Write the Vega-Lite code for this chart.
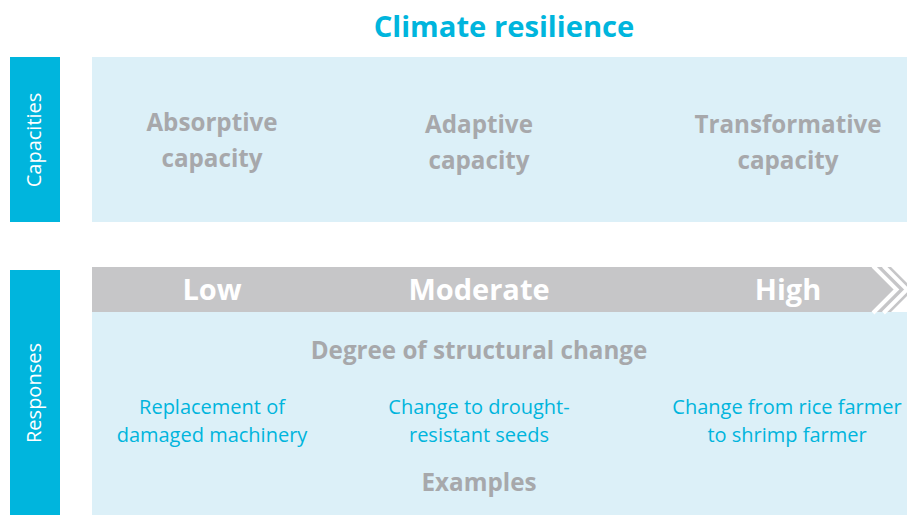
{
  "$schema": "https://vega.github.io/schema/vega-lite/v6.json",
  "width": 907,
  "height": 515,
  "autosize": {"type": "fit", "contains": "padding"},
  "padding": 0,
  "background": "white",
  "config": {"view": {"stroke": null}},
  "datasets": {
    "boxes": [
      {"id": "capBar", "kind": "side", "x0": 10, "x1": 60, "y0": 57, "y1": 222},
      {"id": "capPanel", "kind": "panel", "x0": 92, "x1": 907, "y0": 57, "y1": 222},
      {"id": "respBar", "kind": "side", "x0": 10, "x1": 60, "y0": 270, "y1": 515},
      {"id": "respPanel", "kind": "panel", "x0": 92, "x1": 907, "y0": 312, "y1": 515}
    ],
    "arrow": [
      {"x": 92, "top": 267, "bottom": 312},
      {"x": 891, "top": 267, "bottom": 312},
      {"x": 913.5, "top": 289.5, "bottom": 289.5}
    ],
    "chevrons": [
      {"c": "a", "o": 1, "x": 873, "y": 266},
      {"c": "a", "o": 2, "x": 896.5, "y": 289.5},
      {"c": "a", "o": 3, "x": 873, "y": 313},
      {"c": "b", "o": 1, "x": 883.5, "y": 266},
      {"c": "b", "o": 2, "x": 907, "y": 289.5},
      {"c": "b", "o": 3, "x": 883.5, "y": 313}
    ],
    "texts": [
      {"kind": "title", "label": "Climate resilience", "x": 504, "y": 28},
      {"kind": "side", "label": "Capacities", "x": 35, "y": 140},
      {"kind": "side", "label": "Responses", "x": 35, "y": 393},
      {"kind": "capacity", "label": "Absorptive\ncapacity", "x": 212, "y": 124},
      {"kind": "capacity", "label": "Adaptive\ncapacity", "x": 479, "y": 126},
      {"kind": "capacity", "label": "Transformative\ncapacity", "x": 788, "y": 126},
      {"kind": "level", "label": "Low", "x": 212, "y": 291},
      {"kind": "level", "label": "Moderate", "x": 479, "y": 291},
      {"kind": "level", "label": "High", "x": 788, "y": 291},
      {"kind": "heading", "label": "Degree of structural change", "x": 479, "y": 352},
      {"kind": "heading", "label": "Examples", "x": 479, "y": 484},
      {"kind": "example", "label": "Replacement of\ndamaged machinery", "x": 212, "y": 408},
      {"kind": "example", "label": "Change to drought-\nresistant seeds", "x": 479, "y": 408},
      {"kind": "example", "label": "Change from rice farmer\nto shrimp farmer", "x": 787, "y": 408}
    ]
  },
  "layer": [
    {
      "data": {"name": "boxes"},
      "mark": {"type": "rect", "clip": true},
      "encoding": {
        "x": {"field": "x0", "type": "quantitative", "scale": {"domain": [0, 907], "nice": false, "zero": false}, "axis": null},
        "x2": {"field": "x1"},
        "y": {"field": "y0", "type": "quantitative", "scale": {"domain": [0, 515], "nice": false, "zero": false, "reverse": true}, "axis": null},
        "y2": {"field": "y1"},
        "color": {"field": "kind", "type": "nominal", "scale": {"domain": ["side", "panel"], "range": ["#00b5dd", "#dcf0f8"]}, "legend": null}
      }
    },
    {
      "data": {"name": "arrow"},
      "mark": {"type": "area", "color": "#c6c6c8", "clip": true, "orient": "vertical"},
      "encoding": {
        "x": {"field": "x", "type": "quantitative"},
        "y": {"field": "top", "type": "quantitative"},
        "y2": {"field": "bottom"}
      }
    },
    {
      "data": {"name": "chevrons"},
      "mark": {"type": "line", "color": "white", "strokeWidth": 4, "strokeJoin": "miter", "clip": true},
      "encoding": {
        "x": {"field": "x", "type": "quantitative"},
        "y": {"field": "y", "type": "quantitative"},
        "detail": {"field": "c"},
        "order": {"field": "o"}
      }
    },
    {
      "data": {"name": "texts"},
      "transform": [{"filter": "datum.kind === 'title'"}],
      "mark": {"type": "text", "font": "Open Sans", "fontWeight": 700, "fontSize": 29.2, "color": "#00b5dd", "align": "center", "baseline": "middle"},
      "encoding": {
        "x": {"field": "x", "type": "quantitative"},
        "y": {"field": "y", "type": "quantitative"},
        "text": {"field": "label"}
      }
    },
    {
      "data": {"name": "texts"},
      "transform": [{"filter": "datum.kind === 'side'"}],
      "mark": {"type": "text", "font": "Open Sans", "fontSize": 20, "color": "white", "align": "center", "baseline": "middle", "angle": 270},
      "encoding": {
        "x": {"field": "x", "type": "quantitative"},
        "y": {"field": "y", "type": "quantitative"},
        "text": {"field": "label"}
      }
    },
    {
      "data": {"name": "texts"},
      "transform": [{"filter": "datum.kind === 'capacity'"}],
      "mark": {"type": "text", "font": "Open Sans", "fontWeight": 700, "fontSize": 24.2, "color": "#a7a8ab", "align": "center", "baseline": "middle", "lineBreak": "\n", "lineHeight": 36},
      "encoding": {
        "x": {"field": "x", "type": "quantitative"},
        "y": {"field": "y", "type": "quantitative"},
        "text": {"field": "label"}
      }
    },
    {
      "data": {"name": "texts"},
      "transform": [{"filter": "datum.kind === 'level'"}],
      "mark": {"type": "text", "font": "Open Sans", "fontWeight": 700, "fontSize": 29, "color": "white", "align": "center", "baseline": "middle"},
      "encoding": {
        "x": {"field": "x", "type": "quantitative"},
        "y": {"field": "y", "type": "quantitative"},
        "text": {"field": "label"}
      }
    },
    {
      "data": {"name": "texts"},
      "transform": [{"filter": "datum.kind === 'heading'"}],
      "mark": {"type": "text", "font": "Open Sans", "fontWeight": 700, "fontSize": 24.2, "color": "#a7a8ab", "align": "center", "baseline": "middle"},
      "encoding": {
        "x": {"field": "x", "type": "quantitative"},
        "y": {"field": "y", "type": "quantitative"},
        "text": {"field": "label"}
      }
    },
    {
      "data": {"name": "texts"},
      "transform": [{"filter": "datum.kind === 'example'"}],
      "mark": {"type": "text", "font": "Open Sans", "fontSize": 20, "color": "#00b5dd", "align": "center", "baseline": "middle", "lineBreak": "\n", "lineHeight": 28},
      "encoding": {
        "x": {"field": "x", "type": "quantitative"},
        "y": {"field": "y", "type": "quantitative"},
        "text": {"field": "label"}
      }
    }
  ]
}
